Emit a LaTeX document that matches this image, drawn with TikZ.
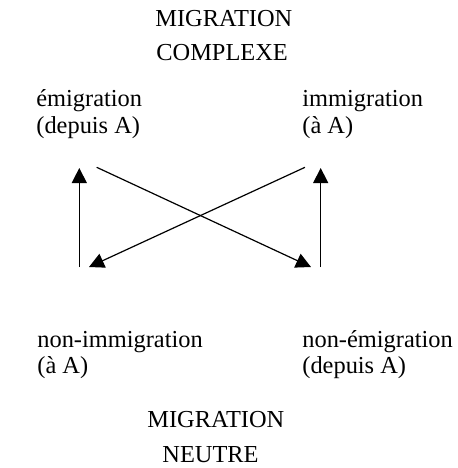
\documentclass[tikz,border=0pt]{standalone}
\usepackage{fontspec}
\setmainfont{Liberation Serif}
\usetikzlibrary{arrows.meta}
\begin{document}
\begin{tikzpicture}[x=0.5pt,y=-0.5pt,
  lbl/.style={anchor=base west,inner sep=0pt,font=\fontsize{12.2}{14}\selectfont},
  conn/.style={line width=0.6pt,-{Triangle[length=7.5pt,width=7.5pt]}}]
\useasboundingbox (0,0) rectangle (458,468);
\node[lbl] (t1) at (155,26) {MIGRATION};
\node[lbl] (t2) at (156,60) {COMPLEXE};
\node[lbl] (em1) at (36,106) {émigration};
\node[lbl] (em2) at (36,133) {(depuis A)};
\node[lbl] (im1) at (302,106) {immigration};
\node[lbl] (im2) at (302,133) {(à A)};
\node[lbl] (ni1) at (37,347) {non-immigration};
\node[lbl] (ni2) at (37,373) {(à A)};
\node[lbl] (ne1) at (302,347) {non-émigration};
\node[lbl] (ne2) at (302,373) {(depuis A)};
\node[lbl] (b1) at (147,427) {MIGRATION};
\node[lbl] (b2) at (162,462) {NEUTRE};
\coordinate (lb) at (79.3,267);
\coordinate (lt) at (79.3,168);
\coordinate (rb) at (320.7,267);
\coordinate (rt) at (320.7,168);
\coordinate (d1s) at (96.7,167.3);
\coordinate (d1e) at (311,267);
\coordinate (d2s) at (305,167.3);
\coordinate (d2e) at (89,267);
\draw[conn] (lb) -- (lt);
\draw[conn] (rb) -- (rt);
\draw[conn] (d1s) -- (d1e);
\draw[conn] (d2s) -- (d2e);
\end{tikzpicture}
\end{document}
